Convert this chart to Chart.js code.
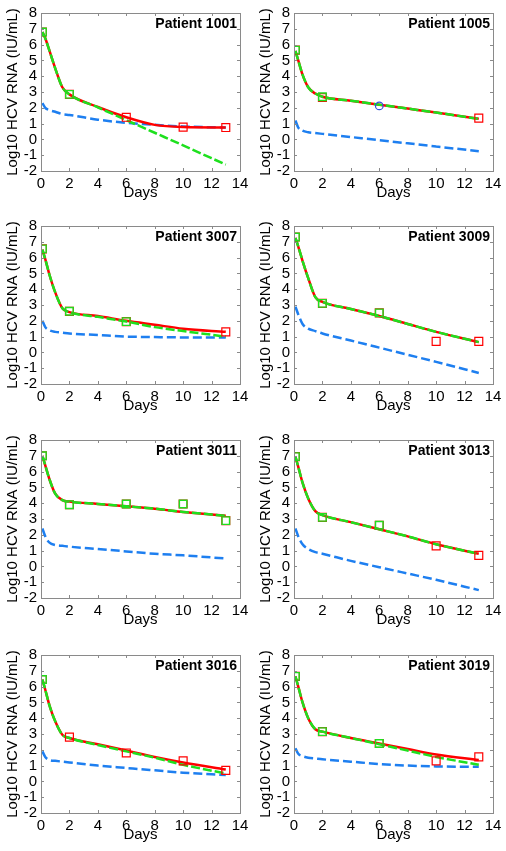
<!DOCTYPE html>
<html>
<head>
<meta charset="utf-8">
<script src="https://cdn.jsdelivr.net/npm/chart.js@4/dist/chart.umd.min.js"></script>
<style>
  html, body { margin: 0; padding: 0; background: #fff; overflow: hidden; }
  body { width: 506px; height: 851px; position: relative; }
  .panel { position: absolute; width: 253px; height: 213px; }
</style>
</head>
<body>
<div id="wrap"></div>
<script>
// sample days for the model curves, and days of the measured points
const curveDays = [0.1, 0.3, 0.6, 1, 1.5, 2, 4, 6, 8, 10, 13];
const obsDays = [0.1, 2, 6, 10, 13];

const patients = ['Patient 1001', 'Patient 1005', 'Patient 3007', 'Patient 3009',
                  'Patient 3011', 'Patient 3013', 'Patient 3016', 'Patient 3019'];

// red solid fit
const redFit = [
  [6.8, 6.4, 5.6, 4.5, 3.3, 2.85, 2.05, 1.4, 0.92, 0.78, 0.75],
  [5.6, 5.0, 4.1, 3.3, 2.9, 2.7, 2.45, 2.2, 1.95, 1.7, 1.3],
  [6.5, 5.9, 4.9, 3.8, 2.8, 2.55, 2.3, 2.0, 1.75, 1.5, 1.3],
  [7.25, 6.7, 5.8, 4.7, 3.5, 3.2, 2.75, 2.3, 1.8, 1.3, 0.65],
  [7.0, 6.4, 5.5, 4.6, 4.2, 4.1, 3.95, 3.8, 3.65, 3.45, 3.2],
  [6.95, 6.3, 5.3, 4.3, 3.5, 3.25, 2.8, 2.35, 1.9, 1.4, 0.8],
  [6.45, 5.8, 4.8, 3.8, 2.95, 2.75, 2.35, 1.95, 1.55, 1.2, 0.75],
  [6.65, 6.0, 5.0, 4.0, 3.3, 3.15, 2.75, 2.4, 2.05, 1.7, 1.35]
];
// green dashed fit
const greenFit = [
  [6.8, 6.4, 5.6, 4.5, 3.3, 2.85, 2.03, 1.22, 0.42, -0.38, -1.6],
  [5.6, 5.0, 4.1, 3.3, 2.9, 2.7, 2.45, 2.2, 1.95, 1.7, 1.3],
  [6.5, 5.9, 4.9, 3.8, 2.8, 2.55, 2.25, 1.95, 1.6, 1.35, 1.0],
  [7.25, 6.7, 5.8, 4.7, 3.5, 3.2, 2.75, 2.3, 1.8, 1.3, 0.65],
  [7.0, 6.4, 5.5, 4.6, 4.2, 4.1, 3.95, 3.8, 3.65, 3.45, 3.2],
  [6.95, 6.3, 5.3, 4.3, 3.5, 3.25, 2.8, 2.35, 1.9, 1.4, 0.8],
  [6.45, 5.8, 4.8, 3.8, 2.95, 2.75, 2.3, 1.9, 1.5, 1.05, 0.5],
  [6.65, 6.0, 5.0, 4.0, 3.3, 3.15, 2.75, 2.35, 1.95, 1.55, 1.05]
];
// blue dashed curve
const blueFit = [
  [2.3, 2.0, 1.85, 1.75, 1.6, 1.55, 1.25, 1.05, 0.92, 0.82, 0.75],
  [1.2, 0.75, 0.55, 0.45, 0.4, 0.35, 0.15, -0.05, -0.25, -0.45, -0.75],
  [2.0, 1.6, 1.4, 1.3, 1.25, 1.2, 1.1, 1.0, 0.97, 0.95, 0.95],
  [2.9, 2.4, 1.8, 1.5, 1.35, 1.2, 0.75, 0.3, -0.15, -0.6, -1.3],
  [2.4, 1.9, 1.5, 1.35, 1.3, 1.25, 1.1, 0.95, 0.8, 0.7, 0.5],
  [2.4, 1.9, 1.4, 1.1, 0.9, 0.8, 0.35, -0.05, -0.45, -0.85, -1.5],
  [1.9, 1.55, 1.35, 1.3, 1.25, 1.2, 1.0, 0.85, 0.7, 0.55, 0.4],
  [2.1, 1.75, 1.6, 1.5, 1.45, 1.4, 1.25, 1.1, 1.0, 0.95, 0.92]
];
// measured values (red squares), null = not shown
const obsRed = [
  [6.8, 2.85, 1.4, 0.78, 0.75],
  [5.65, 2.65, null, null, 1.35],
  [6.55, 2.6, 1.95, null, 1.3],
  [7.3, 3.1, 2.5, 0.7, 0.7],
  [7.0, 3.9, 3.95, 3.95, 2.9],
  [6.95, 3.1, 2.6, 1.3, 0.7],
  [6.45, 2.8, 1.8, 1.3, 0.7],
  [6.65, 3.15, 2.4, 1.3, 1.55]
];
// points used by the green fit (green squares)
const obsGreen = [
  [6.8, 2.85, null, null, null],
  [5.65, 2.7, null, null, null],
  [6.55, 2.6, 1.95, null, null],
  [7.3, 3.1, 2.5, null, null],
  [7.0, 3.9, 3.95, 3.95, 2.9],
  [6.95, 3.1, 2.6, null, null],
  [6.45, null, null, null, null],
  [6.65, 3.15, 2.4, null, null]
];
// blue circles
const obsBlue = [
  [null, null, null, null, null],
  [null, null, 2.12, null, null],
  [null, null, null, null, null],
  [null, null, null, null, null],
  [null, null, null, null, null],
  [null, null, null, null, null],
  [null, null, null, null, null],
  [null, null, null, null, null]
];

const xTicks = [0, 2, 4, 6, 8, 10, 12, 14];
const yTicks = [-2, -1, 0, 1, 2, 3, 4, 5, 6, 7, 8];

const panelTops = [0, 213, 427, 642];
const FONT = 'Liberation Sans, Arial, Helvetica, sans-serif';
const RED = '#ff0000', GREEN = '#1ee01e', BLUE = '#1e7ff0', AXIS = '#8a8a8a';

function pts(xs, ys) {
  return xs.map((x, i) => ({ x: x, y: ys[i] })).filter(p => p.y !== null);
}

const framePlugin = {
  id: 'frame',
  afterDatasetsDraw(chart, args, opts) {
    const { ctx, chartArea: a, scales } = chart;
    ctx.save();
    ctx.strokeStyle = AXIS;
    ctx.lineWidth = 1;
    ctx.strokeRect(Math.round(a.left) + 0.5, Math.round(a.top) + 0.5,
                   Math.round(a.right - a.left), Math.round(a.bottom - a.top));
    ctx.beginPath();
    xTicks.forEach(t => {
      const px = Math.round(scales.x.getPixelForValue(t)) + 0.5;
      ctx.moveTo(px, a.bottom); ctx.lineTo(px, a.bottom - 3);
      ctx.moveTo(px, a.top); ctx.lineTo(px, a.top + 3);
    });
    yTicks.forEach(t => {
      const py = Math.round(scales.y.getPixelForValue(t)) + 0.5;
      ctx.moveTo(a.left, py); ctx.lineTo(a.left + 3, py);
      ctx.moveTo(a.right, py); ctx.lineTo(a.right - 3, py);
    });
    ctx.stroke();
    ctx.fillStyle = '#000';
    ctx.font = 'bold 14px ' + FONT;
    ctx.textAlign = 'right';
    ctx.textBaseline = 'middle';
    ctx.fillText(opts.label, a.right - 3, a.top + 11);
    ctx.restore();
  }
};

const wrap = document.getElementById('wrap');
patients.forEach((name, k) => {
  const div = document.createElement('div');
  div.className = 'panel';
  div.style.left = (k % 2 === 0 ? 0 : 253) + 'px';
  div.style.top = panelTops[Math.floor(k / 2)] + 'px';
  const cv = document.createElement('canvas');
  cv.width = 253; cv.height = 213;
  div.appendChild(cv);
  wrap.appendChild(div);

  new Chart(cv, {
    type: 'scatter',
    data: {
      datasets: [
        { data: pts(obsDays, obsGreen[k]), showLine: false, pointStyle: 'rect', pointRadius: 5.3,
          borderColor: GREEN, backgroundColor: 'rgba(0,0,0,0)', borderWidth: 1.4, order: 0 },
        { data: pts(obsDays, obsBlue[k]), showLine: false, pointStyle: 'circle', pointRadius: 3.8,
          borderColor: '#3050e0', backgroundColor: 'rgba(0,0,0,0)', borderWidth: 1.2, order: 1 },
        { data: pts(obsDays, obsRed[k]), showLine: false, pointStyle: 'rect', pointRadius: 5.6,
          borderColor: RED, backgroundColor: 'rgba(0,0,0,0)', borderWidth: 1.2, order: 2 },
        { data: pts(curveDays, greenFit[k]), showLine: true, pointRadius: 0, borderColor: GREEN,
          borderWidth: 2.5, borderDash: [9, 3], cubicInterpolationMode: 'monotone', order: 3 },
        { data: pts(curveDays, redFit[k]), showLine: true, pointRadius: 0, borderColor: RED,
          borderWidth: 2.5, cubicInterpolationMode: 'monotone', order: 4 },
        { data: pts(curveDays, blueFit[k]), showLine: true, pointRadius: 0, borderColor: BLUE,
          borderWidth: 2.5, borderDash: [9, 4], cubicInterpolationMode: 'monotone', order: 5 }
      ]
    },
    options: {
      responsive: false,
      animation: false,
      events: [],
      layout: { padding: { top: 13, right: 13, left: 0, bottom: 0 } },
      plugins: { legend: { display: false }, tooltip: { enabled: false }, frame: { label: name } },
      scales: {
        x: {
          type: 'linear', min: 0, max: 14,
          afterFit(s) { s.height = 42; },
          afterBuildTicks(s) { s.ticks = xTicks.map(v => ({ value: v })); },
          grid: { display: false, drawTicks: false },
          border: { display: false },
          ticks: { color: '#000', padding: 4, autoSkip: false, font: { family: FONT, size: 15 }, maxRotation: 0 },
          title: { display: true, text: 'Days', color: '#000', font: { family: FONT, size: 15 },
                   padding: { top: 0, bottom: 11 } }
        },
        y: {
          type: 'linear', min: -2, max: 8,
          afterFit(s) { s.width = 41; },
          afterBuildTicks(s) { s.ticks = yTicks.map(v => ({ value: v })); },
          grid: { display: false, drawTicks: false },
          border: { display: false },
          ticks: { color: '#000', padding: 4, autoSkip: false, font: { family: FONT, size: 15 } },
          title: { display: true, text: 'Log10 HCV RNA (IU/mL)', color: '#000',
                   font: { family: FONT, size: 15 }, padding: { top: 4, bottom: 0 } }
        }
      }
    },
    plugins: [framePlugin]
  });
});
</script>
</body>
</html>
